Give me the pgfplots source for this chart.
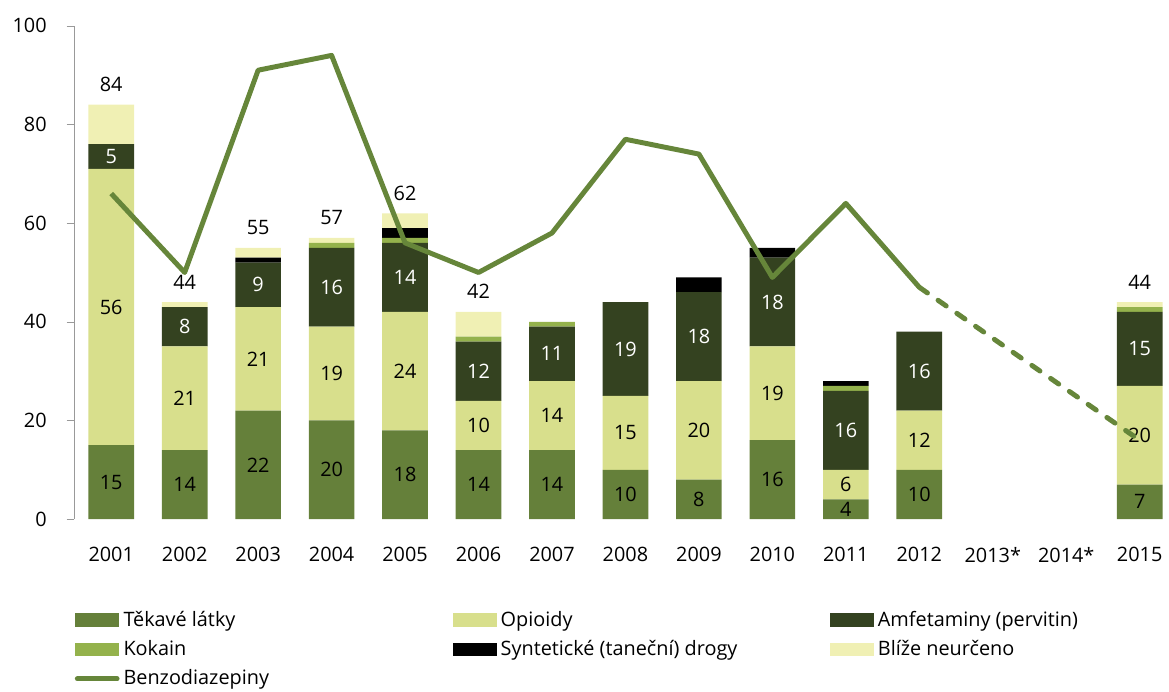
\documentclass[border=0pt]{standalone}
\usepackage{pgfplots}
\pgfplotsset{compat=1.18}
\usepackage{pgfplotstable}
\usepackage{fontspec}
\setmainfont{Open Sans}

\definecolor{tek}{RGB}{101,128,58}
\definecolor{opi}{RGB}{216,223,140}
\definecolor{amf}{RGB}{52,66,32}
\definecolor{kok}{RGB}{148,178,76}
\definecolor{syn}{RGB}{0,0,0}
\definecolor{bli}{RGB}{240,240,180}
\definecolor{benz}{RGB}{102,134,58}

% x: 0 = 2001 ... 14 = 2015 (2013*, 2014* bez dat)
\pgfplotstableread{
x  tek opi amf kok syn bli tot
0  15  56  5   0   0   8   84
1  14  21  8   0   0   1   44
2  22  21  9   0   1   2   55
3  20  19  16  1   0   1   57
4  18  24  14  1   2   3   62
5  14  10  12  1   0   5   42
6  14  14  11  1   0   0   40
7  10  15  19  0   0   0   44
8  8   20  18  0   3   0   49
9  16  19  18  0   2   0   55
10 4   6   16  1   1   0   28
11 10  12  16  0   0   0   38
14 7   20  15  1   0   1   44
}\drogy

\pgfplotstableread{
x  benz
0  66
1  50
2  91
3  94
4  56
5  50
6  58
7  77
8  74
9  49
10 64
11 47
}\benzA

\pgfplotstableread{
x  benz
11 47
14 16
}\benzB

\pgfplotsset{
  base/.style={width=549.5pt, height=248.5pt, scale only axis,
    xmin=-0.5, xmax=14.35, ymin=0, ymax=100},
  legbox/.style={legend image code/.code={\fill[##1] (0pt,-3.5pt) rectangle (22pt,3.5pt);}},
  linleg/.style={legend image code/.code={\draw[##1] (1pt,0pt) -- (21pt,0pt);}},
  mid/.style={nodes near coords,
    every node near coord/.append style={anchor=center, text=#1}},
}

\begin{document}
\begin{tikzpicture}[font=\fontsize{10}{12}\selectfont]
\begin{axis}[base,
  ybar stacked, bar width=23pt,
  /pgf/number format/assume math mode=true,
  axis lines*=left,
  x axis line style={draw=none},
  y axis line style={draw=gray!80},
  xtick={0,...,14},
  xticklabels={2001,2002,2003,2004,2005,2006,2007,2008,2009,2010,2011,2012,2013*,2014*,2015},
  x tick style={draw=none},
  xticklabel style={yshift=-6.5pt},
  ytick={0,20,40,60,80,100},
  y tick style={draw=gray!80},
  tick align=outside, major tick length=4pt,
  yticklabel style={xshift=-6.5pt},
  legend columns=3,
  legend style={draw=none, at={(0,0)}, anchor=north west, yshift=-44pt,
    row sep=1.7pt, inner sep=0pt, font=\fontsize{10}{12}\selectfont},
  legend cell align=left,
]
\addplot[fill=tek, draw=none, legbox, mid=black] table[x=x, y=tek] {\drogy};
\addlegendentry{\makebox[164pt][l]{Těkavé látky}}
\addplot[fill=opi, draw=none, legbox, mid=black] table[x=x, y=opi] {\drogy};
\addlegendentry{\makebox[164pt][l]{Opioidy}}
\addplot[fill=amf, draw=none, legbox, mid=white] table[x=x, y=amf] {\drogy};
\addlegendentry{Amfetaminy (pervitin)}
\addplot[fill=kok, draw=none, legbox] table[x=x, y=kok] {\drogy};
\addlegendentry{\makebox[164pt][l]{Kokain}}
\addplot[fill=syn, draw=none, legbox] table[x=x, y=syn] {\drogy};
\addlegendentry{\makebox[164pt][l]{Syntetické (taneční) drogy}}
% součty nad sloupci (uzel je ve středu úseku, posun na vrchol)
\addplot[fill=bli, draw=none, legbox,
  nodes near coords, point meta=explicit,
  visualization depends on=rawy \as \rawy,
  every node near coord/.append style={anchor=south, text=black,
    yshift={\rawy*1.2425pt+3pt}}]
  table[x=x, y=bli, meta=tot] {\drogy};
\addlegendentry{Blíže neurčeno}
\addlegendimage{benz, line width=2.5pt, line cap=round, linleg}
\addlegendentry{\makebox[164pt][l]{Benzodiazepiny}}
\end{axis}

\begin{axis}[base, hide axis]
\addplot[benz, line width=2.5pt, line join=round] table[x=x, y=benz] {\benzA};
\addplot[benz, line width=2.5pt, line cap=round,
  dash pattern=on 5pt off 6.5pt] table[x=x, y=benz] {\benzB};
\end{axis}
\path (current bounding box.north west) ++(-3pt,6pt);
\end{tikzpicture}
\end{document}
